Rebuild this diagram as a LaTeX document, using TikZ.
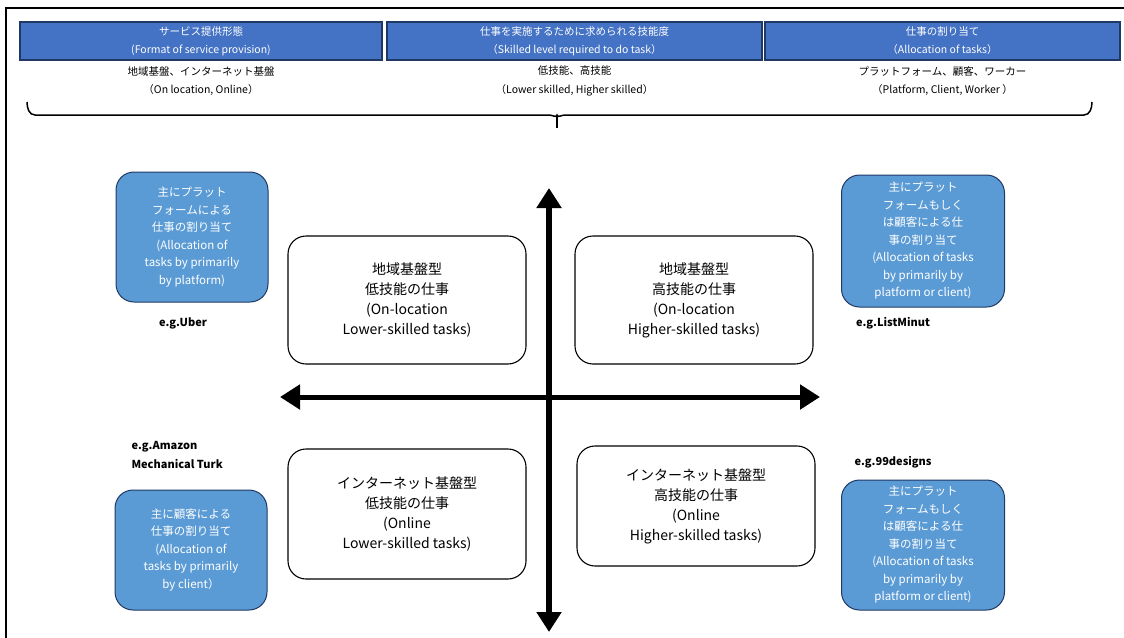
\documentclass[tikz,border=0pt]{standalone}
\usepackage{fontspec}
\setmainfont{Noto Sans CJK JP}
\usepackage{tikz}
\usetikzlibrary{arrows.meta,positioning}
\definecolor{headblue}{HTML}{4472C4}
\definecolor{sideblue}{HTML}{5B9BD5}
\definecolor{edgeblue}{HTML}{1F3864}
\tikzset{
    head-box/.style = {draw=edgeblue, fill=headblue, line width=1.2pt, text=white, minimum height=38pt, inner sep=0pt, align=center, font=\fontsize{10.5}{18}\selectfont},
    head-sub/.style = {align=center, font=\fontsize{10.5}{18.5}\selectfont},
    quad-box/.style = {draw=black, fill=white, line width=1.1pt, rounded corners=18pt, minimum width=238pt, minimum height=128pt, align=center, font=\fontsize{14}{20}\selectfont},
    side-box/.style = {draw=edgeblue, fill=sideblue, line width=1pt, rounded corners=18pt, minimum width=152pt, text=white, align=center, font=\fontsize{11.5}{17.5}\selectfont},
    eg-text/.style = {align=left, font=\bfseries\fontsize{11}{19}\selectfont},
    axis-arrow/.style = {line width=6pt, {Triangle[width=24pt,length=20pt]}-{Triangle[width=24pt,length=20pt]}},
}
\begin{document}
\begin{tikzpicture}[x=1pt,y=-1pt]
\useasboundingbox (0,0) rectangle (1124,637);
% outer frame
\draw[line width=1.5pt] (6,640) -- (6,8) -- (1130,8);

% header row
\node[head-box, minimum width=362pt] (hdA) at (201,41) {サービス提供形態\\(Format of service provision)};
\node[head-box, minimum width=375pt] (hdB) at (574.5,41) {仕事を実施するために求められる技能度\\（Skilled level required to do task）};
\node[head-box, minimum width=355pt] (hdC) at (942.5,41) {仕事の割り当て\\（Allocation of tasks）};
\node[head-sub] (subA) at (201,81) {地域基盤、インターネット基盤\\（On location, Online）};
\node[head-sub] (subB) at (574.5,81) {低技能、高技能\\（Lower skilled, Higher skilled）};
\node[head-sub] (subC) at (942.5,81) {プラットフォーム、顧客、ワーカー\\（Platform, Client, Worker ）};

% brace under the header
\coordinate (brL) at (27,102);
\coordinate (brR) at (1092,102);
\coordinate (brM) at (557,115);
\coordinate (brT) at (557,128);
\draw[line width=1.5pt] (brL) to[out=-90,in=180] (35,115) -- (549,115) to[out=0,in=-90] (brM) to[out=-90,in=180] (565,115) -- (1084,115) to[out=0,in=-90] (brR);
\draw[line width=1.5pt] (brM) -- (brT);

% axes
\coordinate (axTop) at (549,188);
\coordinate (axBot) at (549,632);
\coordinate (axLeft) at (280,397);
\coordinate (axRight) at (820,397);
\draw[axis-arrow] (axBot) -- (axTop);
\draw[axis-arrow, line width=5pt] (axLeft) -- (axRight);

% quadrants
\node[quad-box] (qOL) at (407,300) {地域基盤型\\低技能の仕事\\(On-location\\Lower-skilled tasks)};
\node[quad-box] (qOH) at (694,300) {地域基盤型\\高技能の仕事\\(On-location\\Higher-skilled tasks)};
\node[quad-box, minimum height=130pt] (qNL) at (407,514) {インターネット基盤型\\低技能の仕事\\(Online\\Lower-skilled tasks)};
\node[quad-box, minimum height=120pt] (qNH) at (696,506) {インターネット基盤型\\高技能の仕事\\(Online\\Higher-skilled tasks)};

% allocation boxes
\node[side-box, minimum height=130pt] (alTL) at (192,237) {主にプラット\\フォームによる\\仕事の割り当て\\(Allocation of\\tasks by primarily\\by platform)};
\node[side-box, minimum width=163pt, minimum height=132pt] (alTR) at (923,241) {主にプラット\\フォームもしく\\は顧客による仕\\事の割り当て\\(Allocation of tasks\\by primarily by\\platform or client)};
\node[side-box, minimum height=120pt] (alBL) at (191,550) {主に顧客による\\仕事の割り当て\\(Allocation of\\tasks by primarily\\by client）};
\node[side-box, minimum width=163pt, minimum height=130pt] (alBR) at (923,545) {主にプラット\\フォームもしく\\は顧客による仕\\事の割り当て\\(Allocation of tasks\\by primarily by\\platform or client)};

% examples
\node[eg-text] (egTL) at (183,323) {e.g.Uber};
\node[eg-text] (egTR) at (893,323) {e.g.ListMinut};
\node[eg-text, anchor=west] (egBL) at (128,455) {e.g.Amazon\\Mechanical Turk};
\node[eg-text] (egBR) at (893,462) {e.g.99designs};
\end{tikzpicture}
\end{document}
